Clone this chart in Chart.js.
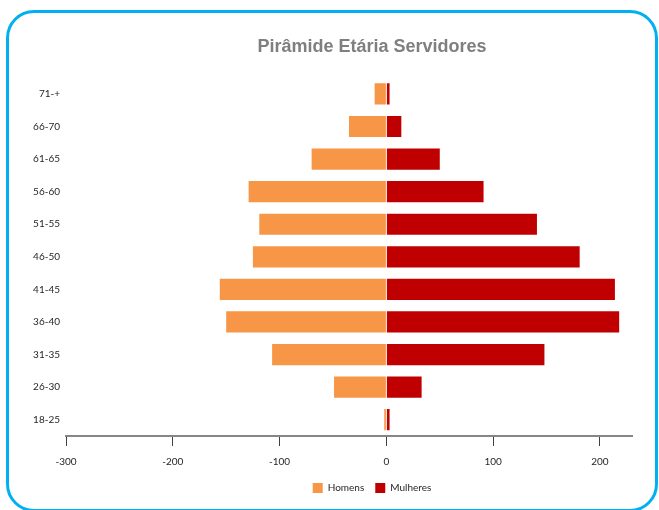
<!DOCTYPE html>
<html>
<head>
<meta charset="utf-8">
<script src="https://cdn.jsdelivr.net/npm/chart.js@4"></script>
<style>
  body { margin: 0; width: 659px; height: 510px; overflow: hidden; background: #fff; position: relative; }
  #frame { position: absolute; left: 6px; top: 10px; width: 652px; height: 502px; box-sizing: border-box;
           border: 3px solid #00b0f0; border-radius: 28px; }
  #c { position: absolute; left: 0; top: 0; }
</style>
</head>
<body>
<div id="frame"></div>
<canvas id="c" width="659" height="510"></canvas>
<script>
// faixas etárias, de cima para baixo
const faixas = ['71-+', '66-70', '61-65', '56-60', '51-55', '46-50', '41-45', '36-40', '31-35', '26-30', '18-25'];
const homens = [-11, -35, -70, -129, -119, -125, -156, -150, -107, -49, -2];
const mulheres = [3, 14, 50, 91, 141, 181, 214, 218, 148, 33, 3];
const xTicks = [-300, -200, -100, 0, 100, 200];

const labelFont = { family: 'Lato', size: 10 };

// title and legend sit centred on a band narrower than the canvas
const shiftBoxes = {
    id: 'shiftBoxes',
    afterLayout(chart) {
        const right = chart.chartArea.right;
        [chart.titleBlock, chart.legend].forEach(b => {
            b.left = right - 520;
            b.right = right;
            b.width = 520;
        });
    }
};

new Chart(document.getElementById('c'), {
    type: 'bar',
    data: {
        labels: faixas,
        datasets: [
            { label: 'Homens', data: homens, backgroundColor: '#f79646', borderWidth: 0 },
            { label: 'Mulheres', data: mulheres, backgroundColor: '#c00000', borderWidth: 0 }
        ]
    },
    options: {
        indexAxis: 'y',
        responsive: false,
        animation: false,
        devicePixelRatio: 1,
        barPercentage: 0.65,
        categoryPercentage: 1,
        layout: { padding: { left: 0, right: 27, top: 0, bottom: 7 } },
        scales: {
            x: {
                stacked: true,
                min: -300,
                max: 230,
                afterBuildTicks: s => { s.ticks = xTicks.map(v => ({ value: v })); },
                afterFit: s => { s.height -= 6; },
                grid: { drawOnChartArea: false, drawTicks: true, tickLength: 10, color: '#404040' },
                border: { display: true, color: '#868686', width: 2 },
                ticks: { font: labelFont, color: '#262626', padding: 10, maxRotation: 0 }
            },
            y: {
                stacked: true,
                afterFit: s => { s.width = 66; },
                grid: { display: false, drawTicks: false },
                border: { display: false },
                ticks: { font: labelFont, color: '#262626', padding: 6 }
            }
        },
        plugins: {
            title: {
                display: true,
                text: 'Pirâmide Etária Servidores',
                color: '#7f7f7f',
                font: { family: 'Liberation Sans', size: 18, weight: 'bold' },
                padding: { top: 36, bottom: 20 }
            },
            legend: {
                position: 'bottom',
                labels: { font: labelFont, color: '#262626', boxWidth: 10, boxHeight: 10, padding: 11 }
            },
            tooltip: { enabled: false }
        }
    },
    plugins: [shiftBoxes]
});
</script>
</body>
</html>
